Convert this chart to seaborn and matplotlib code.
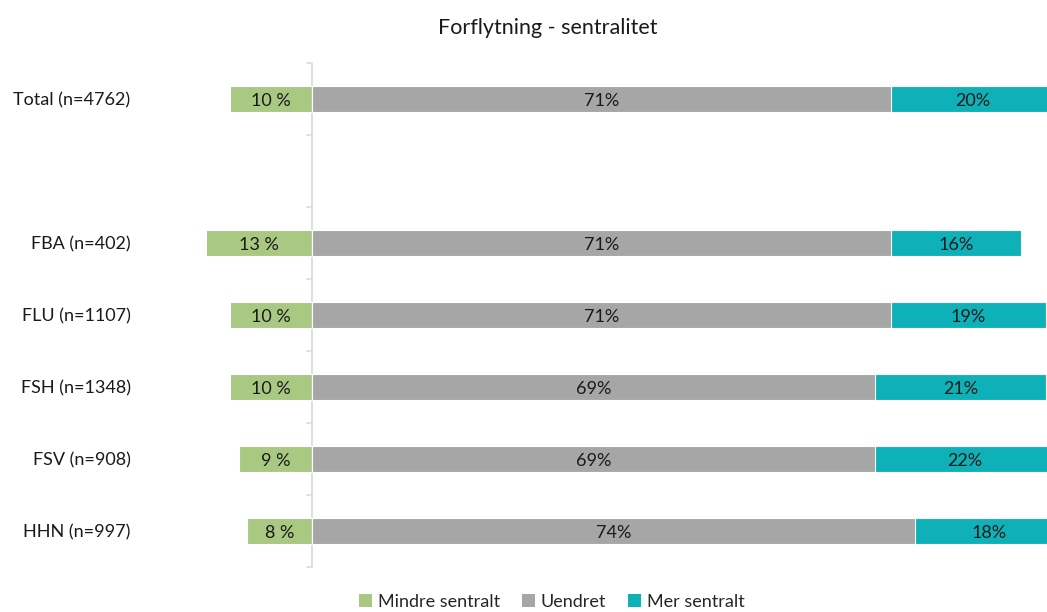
import pandas as pd
import matplotlib.pyplot as plt
import seaborn as sns
from matplotlib.patches import Patch

# data
groups = ["Total (n=4762)", "", "FBA (n=402)", "FLU (n=1107)", "FSH (n=1348)", "FSV (n=908)", "HHN (n=997)"]
mindre = [10, None, 13, 10, 10, 9, 8]
uendret = [71, None, 71, 71, 69, 69, 74]
mer = [20, None, 16, 19, 21, 22, 18]

series_names = ["Mindre sentralt", "Uendret", "Mer sentralt"]
colors = ["#A9C982", "#A6A6A6", "#0FB1B8"]

rows = [(g, a, b, c) for g, a, b, c in zip(groups, mindre, uendret, mer) if a is not None]
df = pd.DataFrame(rows, columns=["Gruppe", "Mindre", "Uendret", "Mer"])
df["Venstre"] = -df["Mindre"]
df["Hoyre"] = df["Uendret"] + df["Mer"]

sns.set_theme(style="white")
plt.rcParams["font.family"] = ["Lato", "DejaVu Sans"]

fig = plt.figure(figsize=(10.47, 6.12), dpi=100)
ax = fig.add_axes([150 / 1047, 45 / 612, 897 / 1047, 504 / 612])

bw = 0.35
fs = 13
sns.barplot(data=df, x="Venstre", y="Gruppe", order=groups, color=colors[0], saturation=1,
            width=bw, orient="h", ax=ax, edgecolor="white", linewidth=0.8)
sns.barplot(data=df, x="Hoyre", y="Gruppe", order=groups, color=colors[2], saturation=1,
            width=bw, orient="h", ax=ax, edgecolor="white", linewidth=0.8)
sns.barplot(data=df, x="Uendret", y="Gruppe", order=groups, color=colors[1], saturation=1,
            width=bw, orient="h", ax=ax, edgecolor="white", linewidth=0.8)

# value labels
for i, g in enumerate(groups):
    r = df[df["Gruppe"] == g]
    if r.empty:
        continue
    r = r.iloc[0]
    kw = dict(ha="center", va="center_baseline", fontsize=fs, color="#1a1a1a")
    ax.text(-r["Mindre"] / 2, i, f"{r['Mindre']} %", **kw)
    ax.text(r["Uendret"] / 2, i, f"{r['Uendret']}%", **kw)
    ax.text(r["Uendret"] + r["Mer"] / 2, i, f"{r['Mer']}%", **kw)

ax.set_xlim(-19.87, 90.13)
ax.set_ylim(len(groups) - 0.5, -0.5)
ax.set_xlabel("")
ax.set_ylabel("")
ax.set_xticks([])
for s in ax.spines.values():
    s.set_visible(False)
ax.tick_params(axis="y", length=0, pad=14, labelsize=fs, labelcolor="#1a1a1a")

# zero axis line with category boundary ticks
ax.axvline(0, color="#D9D9D9", lw=1.2, zorder=0)
for k in range(len(groups) + 1):
    ax.plot([-0.6, 0], [k - 0.5, k - 0.5], color="#D9D9D9", lw=1.2, zorder=0, clip_on=False)

fig.text(548 / 1047, 1 - 28 / 612, "Forflytning - sentralitet", ha="center", va="center",
         fontsize=15.5, color="#1a1a1a")

handles = [Patch(facecolor=c, edgecolor="none") for c in colors]
fig.legend(handles, series_names, loc="center", bbox_to_anchor=(552 / 1047, 1 - 602 / 612),
           ncol=3, frameon=False, fontsize=fs, handlelength=0.7, handleheight=0.7,
           handletextpad=0.35, columnspacing=1.2)

fig.savefig("out.png", dpi=100)
